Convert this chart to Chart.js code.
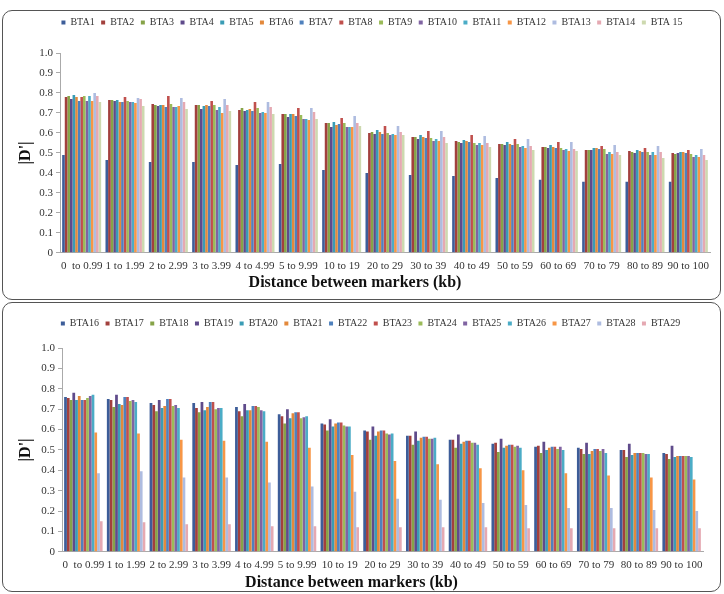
<!DOCTYPE html>
<html>
<head>
<meta charset="utf-8">
<script src="https://cdn.jsdelivr.net/npm/chart.js@4.4.1/dist/chart.umd.min.js"></script>
<style>
  html, body { margin: 0; padding: 0; background: #fff; }
  body { width: 724px; height: 594px; position: relative; overflow: hidden; }
  .box { position: absolute; left: 2px; width: 717px; border: 1.5px solid #555; border-radius: 10px; }
  canvas { position: absolute; left: 0; }
</style>
</head>
<body>
<div class="box" style="top:10px;height:288px;"></div>
<div class="box" style="top:302px;height:288px;"></div>
<canvas id="topChart" width="724" height="288" style="top:11px"></canvas>
<canvas id="bottomChart" width="724" height="288" style="top:304px"></canvas>
<script>
const distanceBins = ['0  to 0.99', '1 to 1.99', '2 to 2.99', '3 to 3.99', '4 to 4.99', '5 to 9.99',
    '10 to 19', '20 to 29', '30 to 39', '40 to 49', '50 to 59', '60 to 69', '70 to 79', '80 to 89', '90 to 100'];
const yTickLabels = ['0', '0.1', '0.2', '0.3', '0.4', '0.5', '0.6', '0.7', '0.8', '0.9', '1.0'];

// top panel, BTA1 - BTA15
const bta1 = [0.49, 0.465, 0.455, 0.455, 0.44, 0.445, 0.415, 0.40, 0.39, 0.385, 0.375, 0.365, 0.355, 0.355, 0.355];
const bta2 = [0.78, 0.765, 0.745, 0.74, 0.715, 0.695, 0.65, 0.60, 0.58, 0.56, 0.545, 0.53, 0.515, 0.51, 0.50];
const bta3 = [0.785, 0.765, 0.74, 0.74, 0.725, 0.695, 0.65, 0.605, 0.58, 0.555, 0.545, 0.53, 0.515, 0.505, 0.495];
const bta4 = [0.77, 0.76, 0.735, 0.72, 0.71, 0.68, 0.63, 0.595, 0.57, 0.55, 0.54, 0.525, 0.515, 0.50, 0.50];
const bta5 = [0.79, 0.765, 0.74, 0.735, 0.715, 0.695, 0.655, 0.615, 0.59, 0.565, 0.555, 0.54, 0.525, 0.515, 0.505];
const bta6 = [0.78, 0.755, 0.74, 0.74, 0.72, 0.695, 0.64, 0.605, 0.58, 0.56, 0.545, 0.53, 0.525, 0.51, 0.505];
const bta7 = [0.76, 0.755, 0.73, 0.735, 0.71, 0.685, 0.645, 0.595, 0.575, 0.555, 0.54, 0.525, 0.52, 0.505, 0.50];
const bta8 = [0.78, 0.78, 0.785, 0.76, 0.755, 0.725, 0.675, 0.635, 0.61, 0.59, 0.57, 0.555, 0.535, 0.525, 0.515];
const bta9 = [0.785, 0.76, 0.745, 0.74, 0.725, 0.69, 0.65, 0.60, 0.575, 0.55, 0.545, 0.525, 0.52, 0.505, 0.495];
const bta10 = [0.76, 0.755, 0.73, 0.715, 0.70, 0.67, 0.63, 0.59, 0.56, 0.54, 0.53, 0.515, 0.495, 0.49, 0.48];
const bta11 = [0.785, 0.755, 0.73, 0.73, 0.705, 0.67, 0.63, 0.595, 0.57, 0.55, 0.535, 0.52, 0.505, 0.505, 0.49];
const bta12 = [0.76, 0.75, 0.735, 0.70, 0.70, 0.665, 0.63, 0.59, 0.56, 0.54, 0.525, 0.51, 0.495, 0.49, 0.48];
const bta13 = [0.80, 0.775, 0.775, 0.77, 0.755, 0.725, 0.685, 0.635, 0.61, 0.585, 0.57, 0.555, 0.54, 0.535, 0.52];
const bta14 = [0.785, 0.77, 0.755, 0.74, 0.73, 0.705, 0.65, 0.605, 0.58, 0.55, 0.535, 0.52, 0.505, 0.505, 0.49];
const bta15 = [0.755, 0.735, 0.72, 0.71, 0.695, 0.67, 0.635, 0.59, 0.55, 0.53, 0.515, 0.51, 0.49, 0.475, 0.465];

// bottom panel, BTA16 - BTA29
const bta16 = [0.76, 0.75, 0.73, 0.73, 0.71, 0.675, 0.63, 0.595, 0.57, 0.55, 0.53, 0.515, 0.51, 0.50, 0.485];
const bta17 = [0.755, 0.745, 0.72, 0.705, 0.69, 0.665, 0.625, 0.59, 0.57, 0.55, 0.535, 0.52, 0.505, 0.50, 0.48];
const bta18 = [0.745, 0.71, 0.69, 0.685, 0.665, 0.63, 0.595, 0.55, 0.525, 0.51, 0.49, 0.485, 0.48, 0.465, 0.455];
const bta19 = [0.78, 0.77, 0.745, 0.735, 0.725, 0.70, 0.65, 0.615, 0.59, 0.575, 0.555, 0.54, 0.535, 0.53, 0.52];
const bta20 = [0.745, 0.725, 0.705, 0.695, 0.695, 0.655, 0.615, 0.57, 0.545, 0.53, 0.51, 0.50, 0.48, 0.475, 0.465];
const bta21 = [0.765, 0.72, 0.715, 0.71, 0.695, 0.68, 0.63, 0.59, 0.56, 0.54, 0.52, 0.51, 0.495, 0.485, 0.47];
const bta22 = [0.745, 0.76, 0.75, 0.735, 0.715, 0.685, 0.635, 0.595, 0.565, 0.545, 0.525, 0.515, 0.505, 0.485, 0.47];
const bta23 = [0.745, 0.76, 0.75, 0.735, 0.715, 0.685, 0.635, 0.595, 0.565, 0.545, 0.525, 0.515, 0.505, 0.485, 0.47];
const bta24 = [0.755, 0.74, 0.715, 0.70, 0.71, 0.655, 0.62, 0.58, 0.555, 0.535, 0.515, 0.505, 0.495, 0.485, 0.47];
const bta25 = [0.765, 0.745, 0.72, 0.705, 0.695, 0.66, 0.615, 0.575, 0.555, 0.535, 0.52, 0.515, 0.505, 0.48, 0.47];
const bta26 = [0.77, 0.735, 0.705, 0.705, 0.69, 0.665, 0.615, 0.58, 0.56, 0.525, 0.51, 0.50, 0.485, 0.48, 0.465];
const bta27 = [0.585, 0.58, 0.55, 0.545, 0.54, 0.51, 0.475, 0.445, 0.43, 0.41, 0.40, 0.385, 0.375, 0.365, 0.355];
const bta28 = [0.385, 0.395, 0.365, 0.365, 0.34, 0.32, 0.295, 0.26, 0.255, 0.24, 0.23, 0.215, 0.215, 0.205, 0.20];
const bta29 = [0.15, 0.145, 0.135, 0.135, 0.125, 0.125, 0.12, 0.12, 0.12, 0.12, 0.115, 0.115, 0.115, 0.115, 0.115];

const palette = ['#3D5D99', '#A2403D', '#86A348', '#5F4B8B', '#3A9CB5', '#E3893C', '#4F81BD', '#C0504D',
    '#9BBB59', '#8064A2', '#4BACC6', '#F79646', '#AEBCE0', '#E5A9B2', '#CDD9AF'];

const topSeries = [
    ['BTA1', bta1], ['BTA2', bta2], ['BTA3', bta3], ['BTA4', bta4], ['BTA5', bta5],
    ['BTA6', bta6], ['BTA7', bta7], ['BTA8', bta8], ['BTA9', bta9], ['BTA10', bta10],
    ['BTA11', bta11], ['BTA12', bta12], ['BTA13', bta13], ['BTA14', bta14], ['BTA 15', bta15]
];
const bottomSeries = [
    ['BTA16', bta16], ['BTA17', bta17], ['BTA18', bta18], ['BTA19', bta19], ['BTA20', bta20],
    ['BTA21', bta21], ['BTA22', bta22], ['BTA23', bta23], ['BTA24', bta24], ['BTA25', bta25],
    ['BTA26', bta26], ['BTA27', bta27], ['BTA28', bta28], ['BTA29', bta29]
];

const serif = '"Liberation Serif", "Times New Roman", serif';

// lets the legend box have a fixed height and sit a bit off centre
const fixLegend = {
    id: 'fixLegend',
    beforeLayout(chart, args, opts) {
        const lg = chart.legend;
        if (!lg || lg._fixed) return;
        const fit = lg.fit;
        lg.fit = function () {
            fit.call(this);
            this.height = opts.height;
        };
        lg._fixed = true;
    },
    afterLayout(chart, args, opts) {
        chart.legend.left += opts.shift;
        chart.legend.right += opts.shift;
    }
};

function makeChart(id, series, cfg) {
    new Chart(document.getElementById(id), {
        type: 'bar',
        data: {
            labels: distanceBins,
            datasets: series.map((s, i) => ({
                label: s[0],
                data: s[1],
                backgroundColor: palette[i],
                borderWidth: 0,
                categoryPercentage: 0.9,
                barPercentage: 1.0
            }))
        },
        options: {
            responsive: false,
            animation: false,
            layout: { padding: { left: 0, right: cfg.padRight, top: cfg.padTop, bottom: 0 } },
            plugins: {
                fixLegend: { height: cfg.legendHeight, shift: cfg.legendShift },
                legend: {
                    position: 'top',
                    labels: {
                        boxWidth: 4,
                        boxHeight: 4,
                        padding: 6.5,
                        color: '#333',
                        font: { family: serif, size: 10 }
                    }
                },
                title: {
                    display: true,
                    position: 'bottom',
                    text: 'Distance between markers (kb)',
                    color: '#111',
                    font: { family: serif, size: 16, weight: 'bold' },
                    padding: { top: cfg.titleTop, bottom: cfg.titleBottom }
                },
                tooltip: { enabled: false }
            },
            scales: {
                x: {
                    grid: { display: true, drawOnChartArea: false, drawTicks: false },
                    border: { display: true, color: '#aaa' },
                    ticks: { color: '#333', font: { family: serif, size: 11 }, padding: 7, maxRotation: 0, autoSkip: false },
                    afterFit: (scale) => { scale.height = cfg.xHeight; }
                },
                y: {
                    min: 0,
                    max: 1,
                    grid: { display: true, drawOnChartArea: false, drawTicks: true, tickLength: 4, color: '#aaa' },
                    border: { display: true, color: '#aaa' },
                    ticks: {
                        stepSize: 0.1,
                        color: '#333',
                        font: { family: serif, size: 11 },
                        padding: 3,
                        callback: (v, i) => yTickLabels[i]
                    },
                    title: {
                        display: true,
                        text: "|D'|",
                        color: '#111',
                        font: { family: serif, size: 16, weight: 'bold' },
                        padding: { top: 16, bottom: 0 }
                    },
                    afterFit: (scale) => { scale.width = cfg.yWidth; }
                }
            }
        },
        plugins: [fixLegend]
    });
}

makeChart('topChart', topSeries, {
    padRight: 14, padTop: 0, legendHeight: 42, legendShift: 17,
    xHeight: 20, titleTop: 0, titleBottom: 7, yWidth: 60
});
makeChart('bottomChart', bottomSeries, {
    padRight: 21, padTop: 8, legendHeight: 36, legendShift: 19,
    xHeight: 19, titleTop: 2, titleBottom: 0, yWidth: 62
});
</script>
</body>
</html>
